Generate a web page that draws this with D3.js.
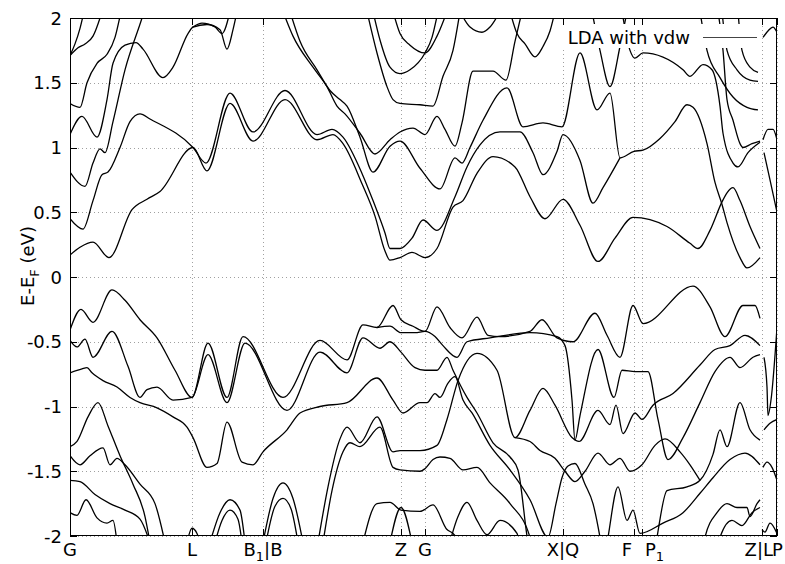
<!DOCTYPE html>
<html><head><meta charset="utf-8">
<script src="https://cdn.jsdelivr.net/npm/d3@7"></script>
<style>body{margin:0;background:#fff} svg text{font-family:"DejaVu Sans",sans-serif;fill:#000}</style>
</head><body><svg id="chart" width="785" height="564"></svg>
<script>
// High-symmetry points along the k-path (path coordinate) and their labels
const kTicks = [0, 1.22, 1.93, 3.31, 3.55, 4.93, 5.64, 5.72, 6.92, 7.07];
const kLabels = ["G", "L", "B_1|B", "Z", "G", "X|Q", "F", "P_1", "Z|L", "P"];
const kAnchor = ["middle", "middle", "middle", "middle", "middle", "middle", "end", "start", "end", "start"];
const kShift = [0, 0, 0, 0, 0, 0, -2, 3, 11, -5];
const eTicks = [-2, -1.5, -1, -0.5, 0, 0.5, 1, 1.5, 2];

// Conduction bands (E - E_F in eV vs path coordinate)
const conduction = [
  [[0,1.71],[0.05,1.8],[0.1,1.92],[0.14,2.05]],
  [[0,1.71],[0.08,1.77],[0.15,1.8],[0.23,1.86],[0.3,2.0],[0.32,2.05]],
  [[0,1.34],[0.1,1.31],[0.17,1.5],[0.27,1.65],[0.37,1.72],[0.45,1.85],[0.51,2.05]],
  [[0,1.1],[0.12,1.24],[0.27,1.08],[0.37,1.37],[0.43,1.65],[0.55,1.79],[0.66,1.81],[0.73,1.76],[0.93,1.54],[1.03,1.62],[1.18,1.88],[1.23,1.93],[1.37,1.95],[1.5,1.91],[1.57,1.76],[1.63,1.91],[1.67,2.05]],
  [[1.23,1.93],[1.32,1.96],[1.45,1.93],[1.52,1.88],[1.6,2.05]],
  [[0,0.81],[0.15,0.7],[0.23,0.88],[0.3,0.99],[0.35,0.96],[0.43,1.2],[0.55,1.6],[0.72,2.0],[0.74,2.05]],
  [[0,0.45],[0.13,0.37],[0.23,0.59],[0.32,0.79],[0.38,0.81],[0.5,1.0],[0.6,1.2],[0.7,1.26],[0.8,1.22],[1.23,1.0],[1.36,0.88],[1.6,1.42],[1.83,1.12],[2.15,1.44],[2.47,1.1],[2.62,1.14],[2.73,1.08],[2.92,0.8],[3.03,0.59],[3.15,0.34],[3.2,0.22],[3.3,0.22],[3.42,0.3],[3.53,0.44],[3.67,0.36],[3.85,0.62],[3.97,0.85],[4.1,1.02],[4.3,1.12],[4.5,1.12],[4.63,0.96],[4.73,0.79],[4.87,0.97],[4.93,1.1],[5.1,0.9],[5.23,0.57],[5.33,0.69],[5.5,0.92]],
  [[0,0.17],[0.1,0.23],[0.23,0.27],[0.39,0.15],[0.62,0.52],[0.77,0.6],[0.9,0.66],[1.23,1.0],[1.37,0.82],[1.6,1.34],[1.83,1.05],[2.15,1.37],[2.47,1.06],[2.63,1.1],[2.73,1.03],[2.92,0.72],[3.05,0.47],[3.15,0.2],[3.2,0.13],[3.3,0.15],[3.42,0.19],[3.55,0.15],[3.67,0.22],[3.83,0.54],[3.93,0.59],[4.07,0.8],[4.23,0.93],[4.45,0.85],[4.6,0.62],[4.75,0.45],[4.93,0.6],[5.1,0.4],[5.28,0.12],[5.45,0.3],[5.63,0.46],[5.97,0.39],[6.2,0.26],[6.28,0.22],[6.4,0.36],[6.52,0.58],[6.57,0.65],[6.63,0.69],[6.7,0.59],[6.8,0.39],[6.9,0.22]],
  [[2.13,2.05],[2.23,1.86],[2.43,1.62],[2.57,1.47],[2.67,1.32],[2.75,1.26],[2.9,1.11],[3.05,0.95],[3.2,1.06],[3.3,1.12],[3.43,1.15],[3.55,1.1],[3.67,1.24],[3.75,1.14],[3.85,1.01],[3.92,1.19],[4.03,1.59],[4.23,1.59],[4.36,1.52],[4.45,1.82],[4.52,2.05]],
  [[2.2,2.05],[2.3,1.82],[2.47,1.6],[2.6,1.44],[2.7,1.37],[2.77,1.32],[2.9,1.08],[3.03,0.81],[3.2,1.01],[3.3,1.05],[3.5,0.84],[3.7,0.68],[3.85,0.92],[3.92,0.88],[4.0,1.0],[4.13,1.21],[4.37,1.46],[4.53,1.16],[4.73,1.19],[4.92,1.16],[5.1,1.73],[5.27,1.29],[5.4,1.42],[5.5,0.92],[5.64,0.97],[5.73,0.98],[5.9,1.07],[6.05,1.2],[6.17,1.33],[6.23,1.31],[6.37,1.03],[6.45,0.73],[6.52,0.56],[6.57,0.42],[6.7,0.15],[6.77,0.07],[6.9,0.15]],
  [[3.23,2.05],[3.3,1.88],[3.4,1.79],[3.55,1.73],[3.67,1.86],[3.77,2.05]],
  [[2.97,2.05],[3.07,1.73],[3.17,1.47],[3.23,1.37],[3.3,1.34],[3.5,1.33],[3.63,1.32],[3.73,1.55],[3.83,1.75],[3.9,2.05]],
  [[3.03,2.05],[3.1,1.83],[3.2,1.62],[3.3,1.57],[3.4,1.6],[3.55,1.73],[3.62,1.85],[3.68,2.05]],
  [[3.9,2.05],[4.0,1.93],[4.12,1.89],[4.2,1.93],[4.3,2.05]],
  [[4.4,2.05],[4.47,1.88],[4.55,1.8],[4.65,1.7],[4.73,1.78],[4.8,1.9],[4.85,2.05]],
  [[5.22,2.05],[5.3,1.75],[5.4,1.47],[5.5,1.78],[5.57,2.05]],
  [[5.52,2.05],[5.6,1.75],[5.65,1.69],[5.73,1.73],[6.13,1.6],[6.2,1.55],[6.33,1.64],[6.42,1.6],[6.5,1.32],[6.53,1.11],[6.63,0.88],[6.68,0.85],[6.78,0.96],[6.9,1.04]],
  [[6.48,2.05],[6.53,1.75],[6.57,1.37],[6.63,1.21],[6.7,1.03],[6.73,1.0],[6.82,1.03],[6.9,1.05]],
  [[6.3,2.05],[6.37,1.75],[6.5,1.54],[6.63,1.39],[6.77,1.31],[6.88,1.29]],
  [[6.52,2.05],[6.57,1.75],[6.67,1.6],[6.8,1.52],[6.88,1.51]],
  [[6.68,2.05],[6.72,1.75],[6.8,1.62],[6.88,1.58]],
  [[6.93,1.06],[6.98,1.14],[7.03,1.14],[7.07,1.06]],
  [[6.94,0.96],[7.0,0.75],[7.07,0.5]],
  [[6.93,1.85],[6.98,1.9],[7.03,1.93],[7.07,1.89]]
];

// Valence bands
const valence = [
  [[0,-0.41],[0.11,-0.25],[0.23,-0.35],[0.42,-0.1],[0.55,-0.18],[0.7,-0.33],[0.87,-0.47],[1.05,-0.72],[1.22,-0.93],[1.38,-0.51],[1.57,-0.93],[1.73,-0.46],[2.13,-0.93],[2.5,-0.49],[2.77,-0.64],[2.93,-0.37],[3.07,-0.39],[3.23,-0.22],[3.31,-0.33],[3.43,-0.38],[3.55,-0.42],[3.67,-0.23],[3.8,-0.39],[3.92,-0.47],[4.07,-0.31],[4.18,-0.45],[4.3,-0.46],[4.6,-0.42],[4.72,-0.33],[4.87,-0.47],[5.03,-0.5],[5.25,-0.28],[5.37,-0.45],[5.5,-0.62],[5.63,-0.22],[5.73,-0.36],[6.23,-0.07],[6.4,-0.23],[6.55,-0.46],[6.73,-0.22],[6.85,-0.22],[6.9,-0.32]],
  [[3.07,-0.39],[3.2,-0.38],[3.31,-0.43],[3.45,-0.43],[3.55,-0.42],[3.65,-0.46],[3.73,-0.53],[3.87,-0.62],[3.97,-0.5],[4.2,-0.47],[4.6,-0.43],[4.87,-0.46],[4.95,-0.53],[5.02,-0.95],[5.05,-1.26],[5.1,-1.07],[5.28,-0.56],[5.44,-0.93],[5.52,-0.72],[5.65,-0.73],[5.78,-0.73],[5.88,-1.1],[5.98,-1.41],[6.13,-1.24],[6.3,-0.97],[6.45,-0.73],[6.6,-0.62],[6.7,-0.7],[6.83,-0.62],[6.9,-0.6]],
  [[0,-0.49],[0.07,-0.54],[0.15,-0.48],[0.23,-0.62],[0.42,-0.42],[0.58,-0.69],[0.7,-0.93],[0.77,-0.87],[0.87,-0.85],[1.03,-0.95],[1.22,-0.93],[1.38,-0.6],[1.57,-0.97],[1.75,-0.51],[2.17,-1.03],[2.5,-0.58],[2.77,-0.74],[2.93,-0.47],[3.1,-0.55],[3.2,-0.5],[3.31,-0.58],[3.45,-0.7],[3.55,-0.72],[3.67,-0.72],[3.77,-0.62],[3.83,-0.72],[3.97,-0.93],[4.07,-1.05],[4.23,-1.28],[4.4,-1.39],[4.48,-1.49],[4.57,-2.0],[4.59,-2.1]],
  [[0,-0.74],[0.12,-0.71],[0.17,-0.7],[0.22,-0.74],[0.33,-0.8],[0.47,-0.85],[0.6,-0.93],[0.7,-0.97],[0.87,-1.01],[1.03,-1.08],[1.17,-1.16],[1.23,-1.24],[1.37,-1.47],[1.47,-1.44],[1.57,-1.12],[1.72,-1.43],[1.83,-1.45],[1.93,-1.35],[2.17,-1.18],[2.3,-1.05],[2.5,-1.0],[2.77,-0.97],[3.07,-0.78],[3.23,-0.95],[3.33,-1.05],[3.5,-0.97],[3.57,-0.97],[3.65,-0.9],[3.7,-0.93],[3.78,-0.82],[3.85,-0.77],[3.93,-0.95],[4.02,-1.05],[4.2,-1.3],[4.4,-1.49],[4.6,-1.72],[4.78,-2.01],[4.86,-1.75],[4.92,-1.55],[4.98,-1.46],[5.05,-1.44],[5.15,-1.6],[5.23,-1.75],[5.3,-2.01],[5.32,-2.1]],
  [[0,-1.31],[0.07,-1.27],[0.18,-1.08],[0.28,-0.97],[0.38,-1.15],[0.5,-1.38],[0.63,-1.6],[0.75,-1.85],[0.8,-2.05]],
  [[0,-1.38],[0.1,-1.45],[0.2,-1.38],[0.33,-1.32],[0.4,-1.45],[0.47,-1.4],[0.55,-1.45],[0.7,-1.6],[0.85,-1.75],[0.95,-2.05]],
  [[0,-1.57],[0.1,-1.58],[0.25,-1.68],[0.4,-1.75],[0.55,-1.8],[0.7,-1.87],[0.8,-2.05]],
  [[0,-1.82],[0.07,-1.84],[0.16,-1.72],[0.27,-1.86],[0.37,-1.9],[0.43,-1.88],[0.47,-2.05]],
  [[1.17,-2.05],[1.22,-1.94],[1.27,-1.98],[1.3,-2.05]],
  [[1.4,-2.05],[1.5,-1.82],[1.6,-1.72],[1.7,-1.8],[1.75,-2.05]],
  [[1.45,-2.05],[1.52,-1.88],[1.6,-1.8],[1.68,-1.87],[1.72,-2.05]],
  [[1.93,-2.05],[2.03,-1.71],[2.13,-1.59],[2.23,-1.71],[2.33,-2.05]],
  [[1.96,-2.05],[2.05,-1.77],[2.13,-1.71],[2.21,-1.79],[2.28,-2.05]],
  [[2.48,-2.05],[2.58,-1.62],[2.7,-1.25],[2.77,-1.16],[2.9,-1.28],[3.07,-1.08],[3.23,-1.35],[3.3,-1.34],[3.5,-1.34],[3.67,-1.3],[3.77,-1.1],[3.88,-0.8],[4.07,-0.59],[4.27,-0.72],[4.45,-1.24],[4.6,-1.03],[4.73,-0.86],[4.85,-0.99],[5.02,-1.24],[5.09,-1.27],[5.28,-1.03],[5.4,-1.14],[5.46,-0.99],[5.53,-1.21],[5.65,-1.05],[5.72,-1.1],[5.83,-0.99],[6.03,-0.9],[6.3,-0.68],[6.45,-0.56],[6.6,-0.53],[6.75,-0.45],[6.9,-0.53]],
  [[2.53,-2.05],[2.62,-1.65],[2.73,-1.35],[2.8,-1.28],[2.9,-1.31],[3.1,-1.16],[3.23,-1.47],[3.3,-1.49],[3.5,-1.5],[3.55,-1.48],[3.63,-1.41],[3.7,-1.39],[3.8,-1.4],[3.93,-1.49],[4.07,-1.47],[4.2,-1.59],[4.4,-1.75],[4.6,-2.01],[4.62,-2.1]],
  [[2.93,-2.05],[3.07,-1.75],[3.2,-1.74],[3.31,-1.8],[3.5,-1.81],[3.63,-1.76],[3.77,-1.95],[3.83,-1.98],[3.9,-2.05]],
  [[3.78,-2.1],[3.88,-1.85],[3.97,-1.74],[4.07,-1.88],[4.17,-1.99],[4.3,-1.88],[4.47,-1.98],[4.5,-2.1]],
  [[3.2,-2.05],[3.31,-1.78],[3.42,-2.05]],
  [[4.45,-1.24],[4.6,-1.27],[4.7,-1.34],[4.85,-1.4],[4.95,-1.5],[5.05,-1.58],[5.15,-1.5],[5.28,-1.36],[5.4,-1.45],[5.5,-1.4],[5.6,-1.5],[5.72,-1.45],[5.85,-1.3],[5.95,-1.25],[6.1,-1.35],[6.2,-1.45],[6.3,-1.57]],
  [[5.36,-2.1],[5.38,-2.01],[5.48,-1.62],[5.57,-1.88],[5.63,-1.8],[5.7,-1.98],[5.93,-1.9],[6.13,-1.82],[6.3,-1.67],[6.43,-1.55],[6.6,-1.41],[6.75,-1.36],[6.9,-1.45]],
  [[5.85,-2.1],[5.87,-2.01],[5.97,-1.65],[6.17,-1.62],[6.3,-1.57],[6.43,-1.37],[6.5,-1.18],[6.57,-1.31],[6.7,-0.97],[6.8,-1.18],[6.9,-1.26]],
  [[6.33,-2.1],[6.35,-2.01],[6.47,-1.82],[6.57,-1.75],[6.67,-1.78],[6.77,-1.78],[6.8,-1.85],[6.87,-1.75],[6.9,-1.72]],
  [[6.48,-2.1],[6.5,-2.01],[6.62,-1.88],[6.72,-1.92],[6.82,-1.82],[6.9,-1.78]],
  [[6.94,-0.62],[6.97,-0.85],[6.98,-1.07],[7.01,-0.95],[7.07,-0.39]],
  [[6.93,-1.47],[6.97,-1.43],[7.02,-1.47],[7.07,-1.57]],
  [[6.94,-1.18],[7.0,-1.13],[7.07,-1.1]],
  [[6.92,-1.95],[6.95,-1.97],[7.0,-1.9],[7.07,-1.98]]
];

const W = 785, H = 564;
const margin = {left: 70, right: 8, top: 18, bottom: 28};
const svg = d3.select("#chart");
const x = d3.scaleLinear().domain([0, 7.07]).range([margin.left, W - margin.right]);
const y = d3.scaleLinear().domain([-2, 2]).range([H - margin.bottom, margin.top]);
const x0 = x.range()[0], x1 = x.range()[1], y0 = y.range()[1], y1 = y.range()[0];

svg.append("defs").append("clipPath").attr("id", "plot")
  .append("rect").attr("x", x0).attr("y", y0).attr("width", x1 - x0).attr("height", y1 - y0);

// dotted grid
const grid = svg.append("g").attr("stroke", "#a0a0a0").attr("stroke-width", 1).attr("stroke-dasharray", "1,3");
grid.selectAll(".gy").data(eTicks).join("line")
  .attr("x1", x0).attr("x2", x1).attr("y1", d => Math.round(y(d)) + 0.5).attr("y2", d => Math.round(y(d)) + 0.5);
grid.selectAll(".gx").data(kTicks).join("line")
  .attr("y1", y0).attr("y2", y1).attr("x1", d => Math.round(x(d)) + 0.5).attr("x2", d => Math.round(x(d)) + 0.5);

// bands
const line = d3.line().x(d => x(d[0])).y(d => y(d[1])).curve(d3.curveMonotoneX);
const bands = svg.append("g").attr("clip-path", "url(#plot)").attr("fill", "none")
  .attr("stroke", "#000").attr("stroke-width", 1.3).attr("stroke-linejoin", "round");
bands.selectAll(".c").data(conduction).join("path").attr("d", line);
bands.selectAll(".v").data(valence).join("path").attr("d", line);

// legend (opaque key box)
svg.append("rect").attr("x", 563).attr("y", 24).attr("width", 199).attr("height", 24).attr("fill", "#fff");
svg.append("text").attr("x", 690).attr("y", 44).attr("text-anchor", "end").attr("font-size", 18).text("LDA with vdw");
svg.append("line").attr("x1", 703).attr("x2", 757).attr("y1", 37.5).attr("y2", 37.5).attr("stroke", "#444").attr("stroke-width", 1);

// frame and ticks
const axes = svg.append("g").attr("stroke", "#000").attr("stroke-width", 1);
axes.append("rect").attr("x", x0 + 0.5).attr("y", y0 + 0.5).attr("width", x1 - x0 - 1).attr("height", y1 - y0 - 1).attr("fill", "none");
eTicks.forEach(e => {
  const yy = Math.round(y(e)) + 0.5;
  axes.append("line").attr("x1", x0).attr("x2", x0 + 7).attr("y1", yy).attr("y2", yy);
  axes.append("line").attr("x1", x1 - 7).attr("x2", x1).attr("y1", yy).attr("y2", yy);
});
kTicks.forEach(k => {
  const xx = Math.round(x(k)) + 0.5;
  axes.append("line").attr("x1", xx).attr("x2", xx).attr("y1", y1).attr("y2", y1 - 7);
  axes.append("line").attr("x1", xx).attr("x2", xx).attr("y1", y0).attr("y2", y0 + 7);
});

// tick labels
const fmt = d => (d === 0 ? "0" : String(d));
svg.append("g").selectAll("text").data(eTicks).join("text")
  .attr("x", x0 - 8).attr("y", d => y(d) + 6.5).attr("text-anchor", "end").attr("font-size", 18).text(fmt);

function richText(sel, s) {
  // "A_1|B" -> A with subscript 1
  const parts = s.split(/_(.)/);
  parts.forEach((p, i) => {
    if (!p) return;
    const t = sel.append("tspan").text(p);
    if (i % 2 === 1) t.attr("font-size", 13).attr("dy", 5);
    else if (i > 0) t.attr("dy", -5);
  });
}
const xl = svg.append("g");
kLabels.forEach((lab, i) => {
  const t = xl.append("text").attr("x", x(kTicks[i]) + kShift[i]).attr("y", H - 8)
    .attr("text-anchor", kAnchor[i]).attr("font-size", 18);
  richText(t, lab);
});

const yl = svg.append("text").attr("transform", "translate(34,266) rotate(-90)")
  .attr("text-anchor", "middle").attr("font-size", 18);
richText(yl, "E-E_F (eV)");
</script></body></html>
